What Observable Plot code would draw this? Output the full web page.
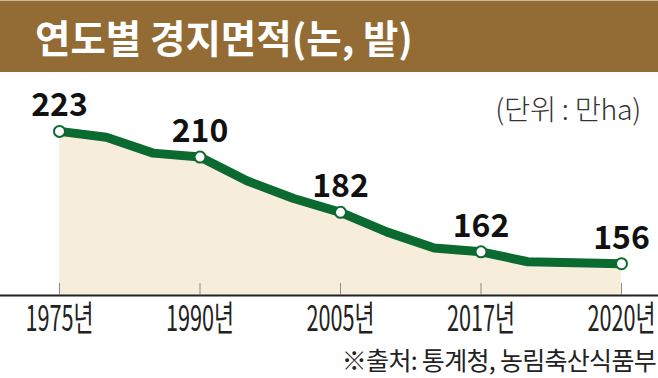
<!DOCTYPE html>
<html>
<head>
<meta charset="utf-8">
<script src="https://cdn.jsdelivr.net/npm/d3@7"></script>
<script src="https://cdn.jsdelivr.net/npm/@observablehq/plot@0.6"></script>
<style>
  html, body { margin: 0; padding: 0; background: #fff; }
  #wrap { position: relative; width: 658px; height: 378px; overflow: hidden; background: #fff;
          font-family: "Noto Sans CJK KR", "Noto Sans", sans-serif; }
  #banner { height: 71px; border-top: 1px solid #cdb892; background: #936B35; position: relative; }
  #title { position: absolute; left: 35px; top: 16px; font-size: 38.5px; line-height: 1; font-weight: 700;
           color: #fff; letter-spacing: 0px; white-space: nowrap; }
  #unit { position: absolute; right: 17px; top: 94px; font-size: 28.5px; line-height: 1; color: #333;
          white-space: nowrap; letter-spacing: -0.3px; font-weight: 300; }
  #source { position: absolute; right: 2px; top: 347px; font-size: 25px; line-height: 1; color: #222;
            white-space: nowrap; letter-spacing: -0.7px; }
  #chart svg { display: block; }
</style>
</head>
<body>
<div id="wrap">
  <div id="banner"><div id="title">연도별 경지면적(논, 밭)</div></div>
  <div id="chart"></div>
  <div id="unit">(단위 : 만ha)</div>
  <div id="source">※출처: 통계청, 농림축산식품부</div>
</div>
<script>
// Data (만ha)
const years = ["1975","1980","1985","1990","1995","2000","2005","2010","2015","2017","2018","2019","2020"];
const values = [223, 220, 212, 210, 198, 189, 182, 172, 164, 162, 157, 156.5, 156];
const labeledYears = ["1975","1990","2005","2017","2020"];
const yDomain = [139.9, 242.7];

const green = "#0B6A30";
const rows = years.map((year, i) => ({year, value: values[i]}));
const labeled = rows.filter(d => labeledYears.includes(d.year));

const chart = Plot.plot({
  width: 658,
  height: 270,
  marginTop: 20,
  marginBottom: 47,
  marginLeft: 0,
  marginRight: 0,
  x: {type: "point", domain: years, range: [59, 621], padding: 0, round: false, label: null, axis: null},
  y: {domain: yDomain, label: null, axis: null},
  style: {fontFamily: '"Noto Sans CJK KR", "Noto Sans", sans-serif', color: "#222", background: "transparent", overflow: "visible"},
  marks: [
    Plot.areaY(rows, {x: "year", y1: () => yDomain[0], y2: "value", fill: "#F6EEDB"}),
    Plot.ruleY([yDomain[0]], {stroke: "#222", strokeWidth: 2}),
    Plot.axisX({ticks: labeledYears, tickSize: 12, dy: -12, tickFormat: () => "", stroke: "#8a8a8a", label: null}),
    Plot.axisX({ticks: labeledYears, tickSize: 0, tickPadding: 11, tickFormat: d => d + "년", fontSize: 35, fill: "#222", label: null}),
    Plot.line(rows, {x: "year", y: "value", stroke: green, strokeWidth: 9, strokeLinejoin: "round", strokeLinecap: "round"}),
    Plot.dot(labeled, {x: "year", y: "value", r: 5.5, fill: "white", stroke: green, strokeWidth: 2}),
    Plot.text(labeled, {x: "year", y: "value", text: d => String(d.value), dy: -15, lineAnchor: "bottom",
      fontSize: 32, fontWeight: 700, fill: "#111", ariaLabel: "value-label"})
  ]
});
document.getElementById("chart").appendChild(chart);

function squeeze(selector, s) {
  chart.querySelectorAll(selector).forEach(t => {
    const b = t.getBBox();
    const cx = b.x + b.width / 2;
    const tr = t.getAttribute("transform") || "";
    t.setAttribute("transform", `${tr} translate(${cx},0) scale(${s},1) translate(${-cx},0)`);
  });
}
squeeze('g[aria-label="x-axis tick label"] text', 0.62);
chart.querySelectorAll('g[aria-label="value-label"] text').forEach(t => t.style.letterSpacing = "-1px");
</script>
</body>
</html>
